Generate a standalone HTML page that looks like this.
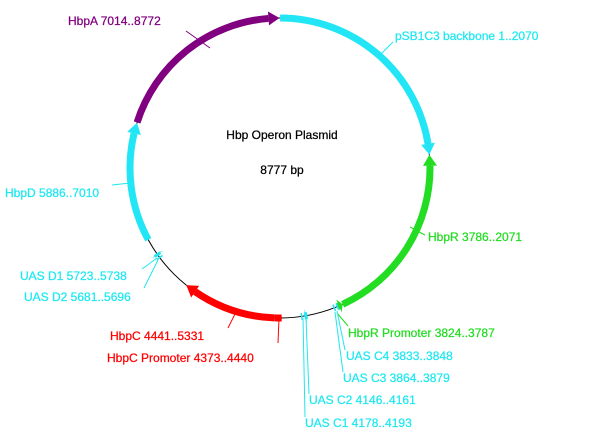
<!DOCTYPE html>
<html><head><meta charset="utf-8"><style>
body{margin:0;background:#fff}
svg{display:block}
text{font-family:"Liberation Sans",Arial,sans-serif;font-size:12px;stroke-width:0.25px}
</style></head><body>
<svg id="map" width="602" height="438" viewBox="0 0 602 438" xmlns="http://www.w3.org/2000/svg">
<circle cx="280" cy="168" r="150" fill="none" stroke="#000" stroke-width="1"/>
<g id="features"></g>
<g stroke-width="1" fill="none">
<line x1="186" y1="31" x2="210" y2="48" stroke="#800080"/>
<line x1="393" y1="42" x2="380" y2="55" stroke="#1ee8f0"/>
<line x1="112" y1="185" x2="130" y2="183" stroke="#1ee8f0"/>
<line x1="425" y1="235" x2="410" y2="227" stroke="#22dd22"/>
<line x1="142" y1="269" x2="157" y2="258" stroke="#1ee8f0"/>
<line x1="144" y1="288" x2="158" y2="260" stroke="#1ee8f0"/>
<line x1="228" y1="328" x2="236" y2="312" stroke="#ff0000"/>
<line x1="278" y1="343" x2="279" y2="318" stroke="#ff0000"/>
<line x1="348" y1="326" x2="337" y2="313" stroke="#22dd22"/>
<line x1="345" y1="350" x2="337" y2="311" stroke="#1ee8f0"/>
<line x1="343" y1="372" x2="335" y2="312" stroke="#1ee8f0"/>
<line x1="309" y1="394" x2="306" y2="318" stroke="#1ee8f0"/>
<line x1="305" y1="417" x2="303" y2="318" stroke="#1ee8f0"/>
</g>
<g style="stroke:currentColor">
<text x="282" y="139" text-anchor="middle" fill="#000" color="#000">Hbp Operon Plasmid</text>
<text x="282" y="174" text-anchor="middle" fill="#000" color="#000">8777 bp</text>
<text x="68" y="25" fill="#800080" color="#800080">HbpA  7014..8772</text>
<text x="395" y="40" fill="#1ee8f0" color="#1ee8f0">pSB1C3 backbone 1..2070</text>
<text x="5" y="197" fill="#1ee8f0" color="#1ee8f0">HbpD 5886..7010</text>
<text x="428" y="241" fill="#22dd22" color="#22dd22">HbpR  3786..2071</text>
<text x="20" y="280" fill="#1ee8f0" color="#1ee8f0">UAS D1 5723..5738</text>
<text x="24" y="301" fill="#1ee8f0" color="#1ee8f0">UAS D2 5681..5696</text>
<text x="110" y="340" fill="#ff0000" color="#ff0000">HbpC  4441..5331</text>
<text x="107" y="362" fill="#ff0000" color="#ff0000">HbpC Promoter 4373..4440</text>
<text x="348" y="337" fill="#22dd22" color="#22dd22">HbpR Promoter 3824..3787</text>
<text x="346" y="360" fill="#1ee8f0" color="#1ee8f0">UAS C4 3833..3848</text>
<text x="343" y="382" fill="#1ee8f0" color="#1ee8f0">UAS C3 3864..3879</text>
<text x="309" y="404" fill="#1ee8f0" color="#1ee8f0">UAS C2 4146..4161</text>
<text x="305" y="427" fill="#1ee8f0" color="#1ee8f0">UAS C1 4178..4193</text>
</g>
</svg>
<script>
const totalBp = 8777;
const featNames = ['psb1c3','hbpr','hbpr-promoter','uas-c4','uas-c3','uas-c2','uas-c1','hbpc-promoter','hbpc','uas-d2','uas-d1','hbpd','hbpa'];
const featStart = [1,3786,3824,3833,3864,4146,4178,4373,4441,5681,5723,5886,7014];
const featEnd   = [2070,2071,3787,3848,3879,4161,4193,4440,5331,5696,5738,7010,8772];
const featColor = ['#22e6f5','#22dd22','#22dd22','#22e6f5','#22e6f5','#22e6f5','#22e6f5','#ff0000','#ff0000','#22e6f5','#22e6f5','#22e6f5','#800080'];
const featArrow = [1,1,1,0,0,1,0,0,1,0,1,1,1];
const CX=280, CY=168, R=150, W=7;
function ang(bp){return bp/totalBp*2*Math.PI;}
function pt(a,r){return [CX+r*Math.sin(a), CY-r*Math.cos(a)];}
const g=document.getElementById('features');
const NS='http://www.w3.org/2000/svg';
for(let i=0;i<featStart.length;i++){
  let a1=ang(featStart[i]), a2=ang(featEnd[i]);
  const dir = a2>=a1?1:-1;
  const headLen = featArrow[i]? Math.min(11/R, Math.abs(a2-a1)) : 0;
  const aBody = a2 - dir*headLen;
  const grp=document.createElementNS(NS,'g');
  
  
  if(Math.abs(aBody-a1)>0.001){
    const p1=pt(a1,R), p2=pt(aBody,R);
    const large=Math.abs(aBody-a1)>Math.PI?1:0;
    const sweep=dir>0?1:0;
    const path=document.createElementNS(NS,'path');
    path.setAttribute('d',`M${p1[0]},${p1[1]} A${R},${R} 0 ${large} ${sweep} ${p2[0]},${p2[1]}`);
    path.setAttribute('fill','none');
    path.setAttribute('stroke',featColor[i]);
    path.setAttribute('stroke-width',W);
    
    
    grp.appendChild(path);
  } else {
    const p1=pt(a1,R-W/2), p2=pt(a1,R+W/2);
    const ln=document.createElementNS(NS,'line');
    ln.setAttribute('x1',p1[0]);ln.setAttribute('y1',p1[1]);ln.setAttribute('x2',p2[0]);ln.setAttribute('y2',p2[1]);
    ln.setAttribute('stroke',featColor[i]);ln.setAttribute('stroke-width',3);
    grp.appendChild(ln);
  }
  if(featArrow[i]){
    const b1=pt(aBody,R-7), b2=pt(aBody,R+7), t=pt(a2,R);
    const tri=document.createElementNS(NS,'polygon');
    tri.setAttribute('points',`${b1[0]},${b1[1]} ${b2[0]},${b2[1]} ${t[0]},${t[1]}`);
    tri.setAttribute('fill',featColor[i]);
    
    
    grp.appendChild(tri);
  }
  g.appendChild(grp);
}
</script>
</body></html>
